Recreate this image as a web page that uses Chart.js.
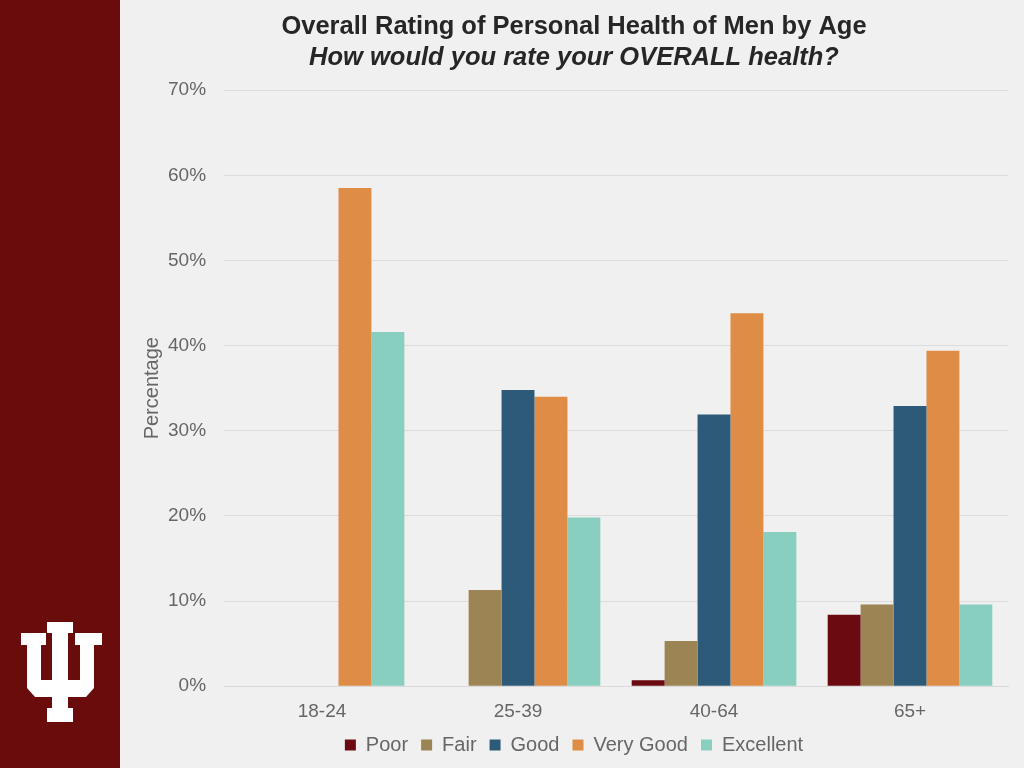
<!DOCTYPE html>
<html>
<head>
<meta charset="utf-8">
<script src="https://cdn.jsdelivr.net/npm/chart.js@4"></script>
<style>
  html, body { margin: 0; padding: 0; background: #f0f0f0; width: 1024px; height: 768px; overflow: hidden; }
  #side { position: absolute; left: 0; top: 0; width: 120px; height: 768px; background: #6a0c0b; }
  #side svg { position: absolute; left: 0; top: 0; }
  #wrap { position: absolute; left: 120px; top: 0; width: 904px; height: 768px; }
</style>
</head>
<body>
<div id="side">
  <svg width="120" height="768" viewBox="0 0 120 768">
    <g fill="#ffffff">
      <rect x="47" y="622" width="26" height="11"/>
      <rect x="52" y="622" width="16" height="100"/>
      <rect x="21" y="633" width="25" height="12"/>
      <rect x="75" y="633" width="27" height="12"/>
      <rect x="27" y="633" width="14" height="55"/>
      <rect x="80" y="633" width="14" height="55"/>
      <polygon points="27,680 94,680 94,688 86,697 35,697 27,688"/>
      <rect x="47" y="708" width="26" height="14"/>
    </g>
  </svg>
</div>
<div id="wrap"><canvas id="c" width="904" height="768"></canvas></div>
<script>
const categories = ["18-24", "25-39", "40-64", "65+"];
const seriesNames = ["Poor", "Fair", "Good", "Very Good", "Excellent"];
const poor      = [0, 0, 0.7, 8.4];
const fair      = [0, 11.3, 5.3, 9.6];
const good      = [0, 34.8, 31.9, 32.9];
const veryGood  = [58.5, 34.0, 43.8, 39.4];
const excellent = [41.6, 19.8, 18.1, 9.6];
const colors = ["#6b0a10", "#9c8455", "#2d5a79", "#de8c46", "#89cfc0"];
const yTicks = [0, 10, 20, 30, 40, 50, 60, 70];

const values = [poor, fair, good, veryGood, excellent];
const font = "'Liberation Sans', Arial, Helvetica, sans-serif";

// Tighten the legend box vertically: shrink its height and lift its drawing.
const LEGEND_SHRINK = 12;
const LEGEND_LIFT = 15;
const legendTighten = {
  id: 'legendTighten',
  afterInit(chart) {
    const lg = chart.legend;
    if (!lg || lg._tightened) return;
    lg._tightened = true;
    const fit = lg.fit.bind(lg);
    lg.fit = function () { fit(); this.height -= LEGEND_SHRINK; };
    const draw = lg.draw.bind(lg);
    lg.draw = function () {
      const t = this.top;
      this.top = t - LEGEND_LIFT;
      draw();
      this.top = t;
    };
  }
};

new Chart(document.getElementById('c'), {
  type: 'bar',
  data: {
    labels: categories,
    datasets: seriesNames.map((n, i) => ({
      label: n,
      data: values[i],
      backgroundColor: colors[i],
      borderWidth: 0,
      categoryPercentage: 0.84,
      barPercentage: 1.0
    }))
  },
  plugins: [legendTighten],
  options: {
    responsive: false,
    animation: false,
    devicePixelRatio: 1,
    layout: { padding: { left: 20, right: 16, top: 0, bottom: 0 } },
    plugins: {
      title: {
        display: true,
        text: 'Overall Rating of Personal Health of Men by Age',
        color: '#262626',
        font: { family: font, size: 25.5, weight: 'bold' },
        padding: { top: 12, bottom: 0 }
      },
      subtitle: {
        display: true,
        text: 'How would you rate your OVERALL health?',
        color: '#262626',
        font: { family: font, size: 25.5, weight: 'bold', style: 'italic' },
        padding: { top: 0, bottom: 17 }
      },
      legend: {
        position: 'bottom',
        labels: {
          color: '#666666',
          font: { family: font, size: 20 },
          boxWidth: 11,
          boxHeight: 11,
          padding: 13,
          usePointStyle: false
        }
      },
      tooltip: { enabled: false }
    },
    scales: {
      x: {
        grid: { display: false, drawTicks: false },
        border: { display: true, color: '#d9d9d9', width: 1 },
        ticks: { color: '#666666', font: { family: font, size: 19 }, padding: 14 }
      },
      y: {
        min: 0,
        max: 70,
        afterBuildTicks: (axis) => { axis.ticks = yTicks.map(v => ({ value: v })); },
        grid: { color: '#dcdcdc', drawTicks: false, lineWidth: 1 },
        border: { display: false },
        ticks: {
          color: '#666666',
          font: { family: font, size: 19 },
          padding: 18,
          callback: (v) => v + '%'
        },
        title: {
          display: true,
          text: 'Percentage',
          color: '#666666',
          font: { family: font, size: 20 },
          padding: { top: 0, bottom: -14 }
        }
      }
    }
  }
});
</script>
</body>
</html>
